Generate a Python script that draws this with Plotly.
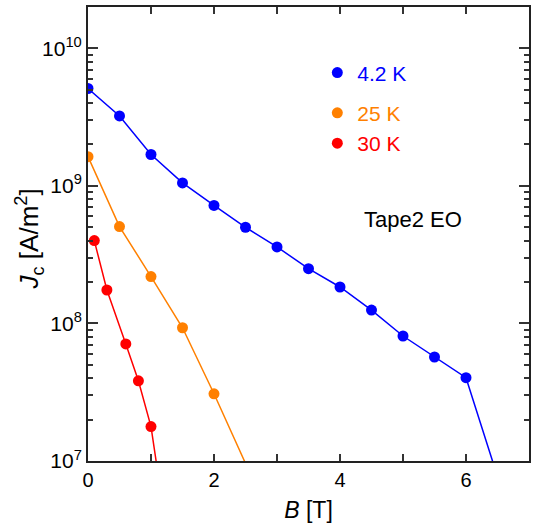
import plotly.graph_objects as go

FONT = "Liberation Sans, Arial, sans-serif"

# Data
b_42 = [0, 0.5, 1.0, 1.5, 2.0, 2.5, 3.0, 3.5, 4.0, 4.5, 5.0, 5.5, 6.0, 6.5]
jc_42 = [5.1e9, 3.22e9, 1.69e9, 1.05e9, 7.2e8, 5.0e8, 3.6e8, 2.5e8, 1.84e8,
         1.25e8, 8.1e7, 5.7e7, 4.03e7, 7.7e6]

b_25 = [0, 0.5, 1.0, 1.5, 2.0, 3.0]
jc_25 = [1.63e9, 5.06e8, 2.19e8, 9.3e7, 3.08e7, 3.0e6]

b_30 = [0.1, 0.3, 0.6, 0.8, 1.0, 1.2]
jc_30 = [4.0e8, 1.75e8, 7.1e7, 3.83e7, 1.78e7, 4.3e6]

series = [
    ("4.2 K", b_42, jc_42, "#0000ff", "g1"),
    ("25 K", b_25, jc_25, "#ff8000", "g2"),
    ("30 K", b_30, jc_30, "#ff0000", "g2"),
]

x_tickvals = [0, 1, 2, 3, 4, 5, 6, 7]
x_ticktext = ["0", "", "2", "", "4", "", "6", ""]

y_exponents = [7, 8, 9, 10]
y_tickvals = [10 ** e for e in y_exponents]
y_ticktext = [f"10<sup>{e}</sup>" for e in y_exponents]
minor_y = [m * 10 ** e for e in range(7, 11) for m in range(2, 10)]

fig = go.Figure()
for name, xs, ys, color, grp in series:
    fig.add_trace(go.Scatter(x=xs, y=ys, mode="lines", line=dict(color=color, width=1.5),
                             showlegend=False, hoverinfo="skip"))
    fig.add_trace(go.Scatter(x=xs, y=ys, mode="markers",
                             marker=dict(color=color, size=11),
                             name=f'<span style="color:{color}">{name}</span>',
                             legendgroup=grp))

fig.update_layout(
    width=534, height=531,
    margin=dict(l=88, r=5, t=7, b=70, autoexpand=False),
    plot_bgcolor="white", paper_bgcolor="white",
    font=dict(family=FONT, size=20, color="black"),
    showlegend=True,
    legend=dict(x=0.52, y=0.9, xanchor="left", yanchor="top",
                bgcolor="rgba(0,0,0,0)", font=dict(size=21, family=FONT),
                tracegroupgap=10, itemwidth=30),
    xaxis=dict(range=[0, 7], tickvals=x_tickvals, ticktext=x_ticktext,
               ticks="inside", ticklen=7, tickwidth=2, tickcolor="#333333",
               showline=True, linecolor="#222", linewidth=2, mirror="ticks",
               showgrid=False, zeroline=False,
               tickfont=dict(size=20, family=FONT),
               title=dict(text="<i>B</i> [T]", font=dict(size=23, family=FONT), standoff=12)),
    yaxis=dict(type="log", range=[7, 10.3], tickvals=y_tickvals, ticktext=y_ticktext,
               ticks="inside", ticklen=10, tickwidth=2, tickcolor="#333333",
               minor=dict(tickvals=minor_y, ticks="inside", ticklen=5, tickwidth=1.5,
                          tickcolor="#333333", showgrid=False),
               showline=True, linecolor="#222", linewidth=2, mirror="ticks",
               showgrid=False, zeroline=False,
               tickfont=dict(size=21, family=FONT)),
    annotations=[
        dict(text="Tape2 EO", x=0.737, y=0.531, xref="paper", yref="paper",
             xanchor="center", yanchor="middle",
             showarrow=False, font=dict(size=22, family=FONT, color="black")),
        dict(text="<i>J</i><sub>c</sub> [A/m<sup>2</sup>]", x=-0.134, y=0.49,
             xref="paper", yref="paper", xanchor="center", yanchor="middle",
             textangle=-90, showarrow=False,
             font=dict(size=26, family=FONT, color="black")),
    ],
)

fig.write_html("out.html")
